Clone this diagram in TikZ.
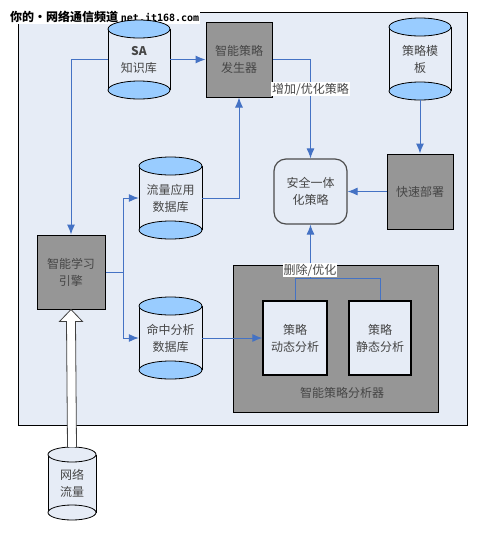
\documentclass[tikz,border=0pt]{standalone}
\usepackage{fontspec}
\setmainfont{Noto Sans CJK SC}
\newfontfamily\markmono{DejaVu Sans Mono}
\usetikzlibrary{calc,
	positioning,
	shapes,
	arrows.meta}
\definecolor{panelbg}{RGB}{230,236,246}
\definecolor{boxgray}{RGB}{150,150,150}
\definecolor{dbend}{RGB}{153,204,255}
\definecolor{linkblue}{RGB}{68,114,196}
\definecolor{txtgray}{RGB}{70,70,70}
\tikzset{
	every node/.style={font=\fontsize{12}{17}\selectfont, text=txtgray, align=center},
	proc/.style={draw=black, line width=1pt, fill=boxgray, inner sep=0pt},
	subproc/.style={draw=black, line width=1.3pt, fill=panelbg, inner sep=0pt},
	goal/.style={draw=black!70, line width=1.2pt, rounded corners=12pt, fill=panelbg, inner sep=0pt},
	dbtext/.style={inner sep=0pt},
	link/.style={draw=linkblue, line width=1pt, -{Latex[length=10pt,width=8pt]}},
	plain link/.style={draw=linkblue, line width=1pt},
	tag/.style={fill=white, inner sep=1pt},
	hollow/.style={draw=black!75, line width=0.8pt, fill=white},
}
% name, centre x, top, bottom, half width, rim height, end colour, text
\newcommand{\store}[8]{%
	\fill[panelbg] (#2-#5,#3+#6) rectangle (#2+#5,#4-#6);
	\draw[line width=0.8pt] (#2-#5,#3+#6) -- (#2-#5,#4-#6) (#2+#5,#3+#6) -- (#2+#5,#4-#6);
	\draw[line width=0.8pt, fill=#7] (#2,#4-#6) ellipse [x radius=#5, y radius=#6];
	\draw[line width=0.8pt, fill=#7] (#2,#3+#6) ellipse [x radius=#5, y radius=#6];
	\node[dbtext, minimum width={2*#5pt}, minimum height={(#4-#3)*1pt}] (#1) at (#2,{(#3+#4)/2}) {#8};
}

\begin{document}
\begin{tikzpicture}[x=1pt, y=-1pt]
	\useasboundingbox (0,0) rectangle (500,542);
	\draw[fill=panelbg, line width=1pt] (18,12) rectangle (467,425);
	\node[anchor=west, fill=white, inner sep=1pt, text=black, font=\fontsize{12}{14}\selectfont\bfseries] (mark) at (9,17) {你的·网络通信频道 {\markmono\fontsize{10}{12}\selectfont\bfseries net.it168.com}};

	\store{sa}{139}{20}{99}{31}{9}{dbend}{\textbf{SA}\\知识库}
	\store{tmpl}{420}{18}{100}{31}{9}{dbend}{策略模\\板}
	\store{flowdb}{170.5}{157}{239}{31.5}{9}{dbend}{流量应用\\数据库}
	\store{hitdb}{170.5}{297}{379}{31.5}{9}{dbend}{命中分析\\数据库}
	\store{net}{72}{447}{520}{24}{7.5}{panelbg}{网络\\流量}

	\node[proc, minimum width=66pt, minimum height=75pt] (gen) at (239,59.5) {智能策略\\发生器};
	\node[proc, minimum width=68pt, minimum height=74pt] (engine) at (71,272) {智能学习\\引擎};
	\node[proc, minimum width=66pt, minimum height=75pt] (deploy) at (420,191.5) {快速部署};
	\node[goal, minimum width=73pt, minimum height=65pt] (safe) at (310.5,191.5) {安全一体\\化策略};
	\node[proc, minimum width=205pt, minimum height=147pt] (ana) at (335.5,338.5) {};
	\node (anatag) at (342,393) {智能策略分析器};
	\node[subproc, minimum width=64pt, minimum height=74pt] (dyn) at (295,338) {策略\\动态分析};
	\node[subproc, minimum width=62pt, minimum height=74pt] (stat) at (380,338) {策略\\静态分析};

	\draw[link] (sa) -- (gen);
	\draw[link] (sa.west) -| (engine.north);
	\draw[link] (gen.east) -| node[tag, pos=0.65] (addtag) {增加/优化策略} (safe.north);
	\draw[link] (flowdb.east) -| (gen.south);
	\draw[plain link] (engine.east) -- ++(18,0) coordinate (split);
	\draw[link] (split) |- (flowdb.west);
	\draw[link] (split) |- (hitdb.west);
	\draw[link] (hitdb) -- (dyn);
	\draw[link] (tmpl) -- (deploy);
	\draw[link] (deploy) -- (safe);
	\coordinate (merge) at (safe.south |- 0,278);
	\draw[plain link] (dyn.north) |- (merge);
	\draw[plain link] (stat.north) |- (merge);
	\draw[link] (merge) -- (safe.south);
	\node[tag] (deltag) at (310,270) {删除/优化};
	\draw[hollow] ($(net.north)+(-4.5,0)$) -- ($(engine.south)+(-4.5,12)$) -- ($(engine.south)+(-11.5,12)$) -- (engine.south) -- ($(engine.south)+(11.5,12)$) -- ($(engine.south)+(4.5,12)$) -- ($(net.north)+(4.5,0)$);
\end{tikzpicture}
\end{document}
